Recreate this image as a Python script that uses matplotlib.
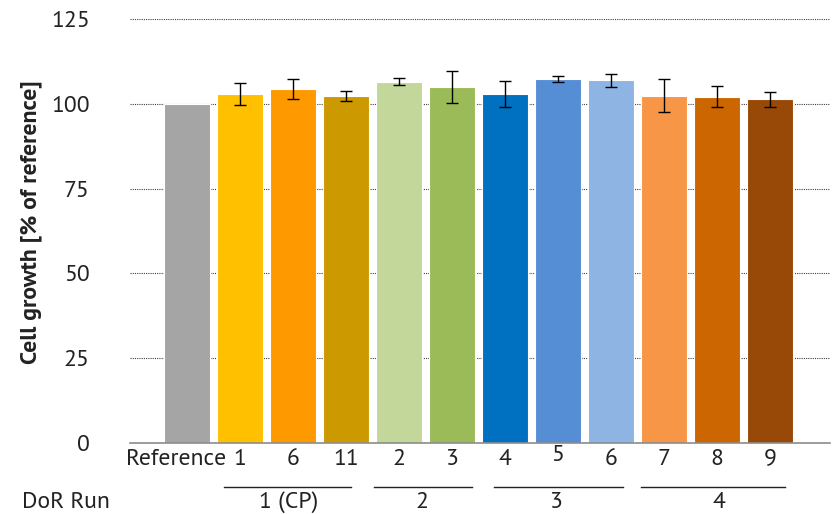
import matplotlib
matplotlib.use("Agg")
import matplotlib.pyplot as plt
import matplotlib.transforms as mtransforms

# Data: cell growth relative to the reference sample
labels = ["Reference", "1", "6", "11", "2", "3", "4", "5", "6", "7", "8", "9"]
values = [100.0, 102.9, 104.3, 102.4, 106.5, 105.0, 102.9, 107.3, 107.0, 102.4, 102.1, 101.3]
errors = [0.0, 3.3, 2.9, 1.5, 1.0, 4.8, 3.9, 1.0, 1.9, 4.9, 3.1, 2.3]
colors = ["#A5A5A5", "#FFC000", "#FF9900", "#CC9900", "#C4D79B", "#9BBB59",
          "#0070C0", "#558ED5", "#8EB4E3", "#F79646", "#CC6600", "#984807"]

# DoR run groups: (label, underline start, underline end, label centre) in bar units
run_groups = [("1 (CP)", 0.71, 3.10, 1.92),
              ("2", 3.53, 5.38, 4.44),
              ("3", 5.79, 8.23, 6.97),
              ("4", 8.57, 11.28, 10.03)]
yticks = [0, 25, 50, 75, 100, 125]

plt.rcParams["font.family"] = ["PT Sans", "DejaVu Sans"]
FS = 17
TXT = "#222222"
W, H = 833, 514

fig = plt.figure(figsize=(W / 100, H / 100), dpi=100)
ax = fig.add_axes([130 / W, 1 - 443 / H, 700 / W, 424 / H])

x = list(range(len(values)))
ax.bar(x, values, width=0.87, color=colors, edgecolor="white", linewidth=0.8, zorder=2)
for xi, v, e in zip(x, values, errors):
    if e > 0:
        ax.errorbar(xi, v, yerr=e, fmt="none", ecolor="black", elinewidth=1.0,
                    capsize=4, capthick=1.0, zorder=3)

ax.set_xlim(-1.07, 12.13)
ax.set_ylim(0, 125)
ax.set_yticks(yticks)
ax.yaxis.grid(True, linestyle=(0, (1, 1)), linewidth=0.8, color="#404040", zorder=0)
ax.set_axisbelow(True)

for side in ["left", "right", "top"]:
    ax.spines[side].set_visible(False)
ax.spines["bottom"].set_color("#8c8c8c")
ax.spines["bottom"].set_linewidth(1.2)

ax.tick_params(axis="y", length=0, pad=29, labelsize=FS, labelcolor=TXT)
ax.set_xticks(x)
ax.set_xticklabels(labels)
ax.tick_params(axis="x", length=0, pad=4, labelsize=FS, labelcolor=TXT)

# nudge a couple of category labels: "Reference" sits left, "5" sits a little high
xlabels = ax.get_xticklabels()
xlabels[0].set_transform(xlabels[0].get_transform()
                         + mtransforms.ScaledTranslation(-0.11, 0, fig.dpi_scale_trans))
xlabels[7].set_transform(xlabels[7].get_transform()
                         + mtransforms.ScaledTranslation(0, 0.04, fig.dpi_scale_trans))

ax.set_ylabel("Cell growth [% of reference]", fontsize=FS, fontweight="bold", color=TXT)
ax.yaxis.set_label_coords(-(130 - 42) / 700, (443 - 222) / 424)

# Run grouping row below the sample labels
trans = mtransforms.blended_transform_factory(ax.transData, fig.transFigure)
line_y = 1 - 487 / H
for name, x0, x1, xc in run_groups:
    ax.plot([x0, x1], [line_y, line_y], transform=trans, color=TXT,
            linewidth=1.0, clip_on=False)
    ax.text(xc, 1 - 502 / H, name, transform=trans, ha="center", va="center",
            fontsize=FS, color=TXT)
fig.text(22 / W, 1 - 502 / H, "DoR Run", ha="left", va="center", fontsize=FS, color=TXT)

fig.savefig("out.png", dpi=100)
